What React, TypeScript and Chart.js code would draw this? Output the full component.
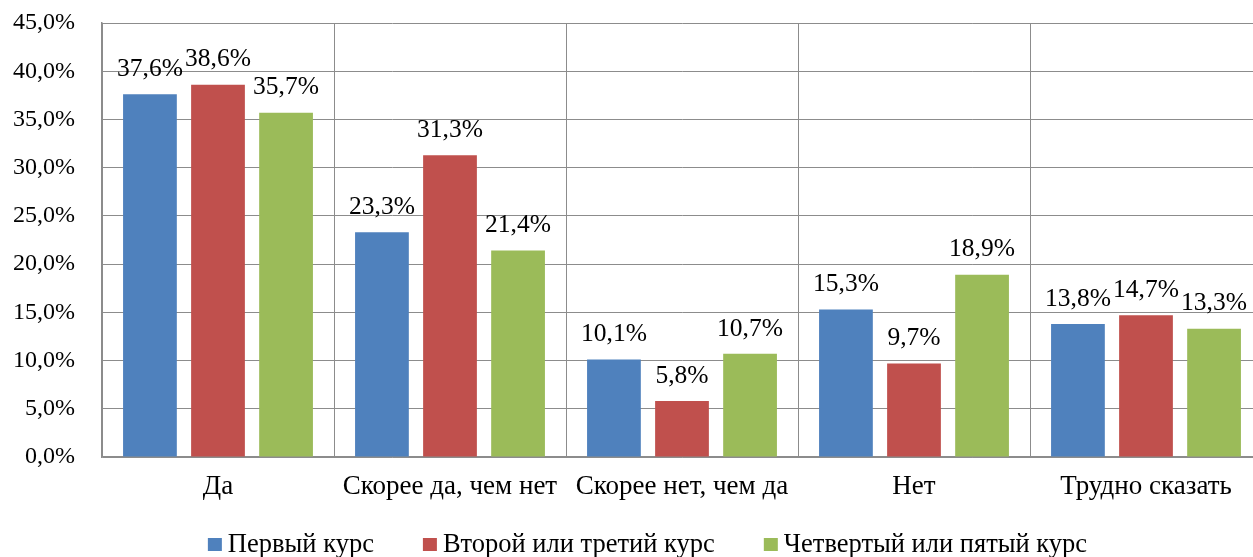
import React, { useEffect, useRef } from "react";
import { Chart, registerables } from "chart.js";

Chart.register(...registerables);

const categories = ["Да", "Скорее да, чем нет", "Скорее нет, чем да", "Нет", "Трудно сказать"];
const seriesNames = ["Первый курс", "Второй или третий курс", "Четвертый или пятый курс"];
const firstCourse = [37.6, 23.3, 10.1, 15.3, 13.8];
const secondThird = [38.6, 31.3, 5.8, 9.7, 14.7];
const fourthFifth = [35.7, 21.4, 10.7, 18.9, 13.3];
const colors = ["#4F81BD", "#C0504D", "#9BBB59"];

const FONT = "'Liberation Serif', 'Times New Roman', serif";
const fmt = (v: number) => v.toFixed(1).replace(".", ",") + "%";

const dataLabels = {
  id: "dataLabels",
  afterDatasetsDraw(chart: any) {
    const ctx = chart.ctx;
    ctx.save();
    ctx.font = `25.5px ${FONT}`;
    ctx.fillStyle = "#000";
    ctx.textAlign = "center";
    ctx.textBaseline = "middle";
    chart.data.datasets.forEach((ds: any, i: number) => {
      const meta = chart.getDatasetMeta(i);
      meta.data.forEach((bar: any, j: number) => {
        ctx.fillText(fmt(ds.data[j]), bar.x, bar.y - 25);
      });
    });
    ctx.restore();
  },
};

const customLegend = {
  id: "customLegend",
  afterDraw(chart: any) {
    const ctx = chart.ctx;
    ctx.save();
    ctx.font = `26.5px ${FONT}`;
    ctx.textBaseline = "middle";
    ctx.textAlign = "left";
    const box = 14;
    const gapBoxText = 6;
    const gapItems = 49;
    const widths = seriesNames.map((n) => ctx.measureText(n).width);
    const total = widths.reduce((a, w) => a + box + gapBoxText + w, 0) + gapItems * (seriesNames.length - 1);
    let x = 647.5 - total / 2;
    const y = 545;
    seriesNames.forEach((n, i) => {
      ctx.fillStyle = colors[i];
      ctx.fillRect(x, y - box / 2, box, 13);
      x += box + gapBoxText;
      ctx.fillStyle = "#000";
      ctx.fillText(n, x, y);
      x += widths[i] + gapItems;
    });
    ctx.restore();
  },
};

export default function App() {
  const ref = useRef<HTMLCanvasElement>(null);
  useEffect(() => {
    if (!ref.current) return;
    const chart = new Chart(ref.current, {
      type: "bar",
      data: {
        labels: categories,
        datasets: [firstCourse, secondThird, fourthFifth].map((d, i) => ({
          label: seriesNames[i],
          data: d,
          backgroundColor: colors[i],
          categoryPercentage: 0.88,
          barPercentage: 0.79,
        })),
      },
      options: {
        animation: false,
        responsive: false,
        maintainAspectRatio: false,
        layout: { padding: { left: 0, right: 8, top: 23, bottom: 0 } },
        plugins: { legend: { display: false }, tooltip: { enabled: false } },
        scales: {
          x: {
            grid: { color: "#8c8c8c", lineWidth: 1, drawTicks: false, offset: true },
            border: { color: "#8c8c8c", width: 1.5 },
            ticks: { font: { family: FONT, size: 27 }, color: "#000", padding: 14 },
            afterFit: (s: any) => {
              s.height = 100;
            },
          },
          y: {
            min: 0,
            max: 45,
            grid: { color: "#8c8c8c", lineWidth: 1, drawTicks: false },
            border: { color: "#8c8c8c", width: 1.5 },
            ticks: {
              stepSize: 5,
              font: { family: FONT, size: 24 },
              color: "#000",
              padding: 27,
              callback: (v: any) => fmt(Number(v)),
            },
            afterFit: (s: any) => {
              s.width = 102;
              s.paddingTop = 0;
              s.paddingBottom = 0;
            },
          },
        },
      },
      plugins: [dataLabels, customLegend],
    });
    return () => chart.destroy();
  }, []);
  return (
    <div style={{ position: "fixed", left: 0, top: 0, width: 1270, height: 557, background: "#fff" }}>
      <canvas ref={ref} width={1270} height={557} style={{ width: 1270, height: 557 }} />
    </div>
  );
}
